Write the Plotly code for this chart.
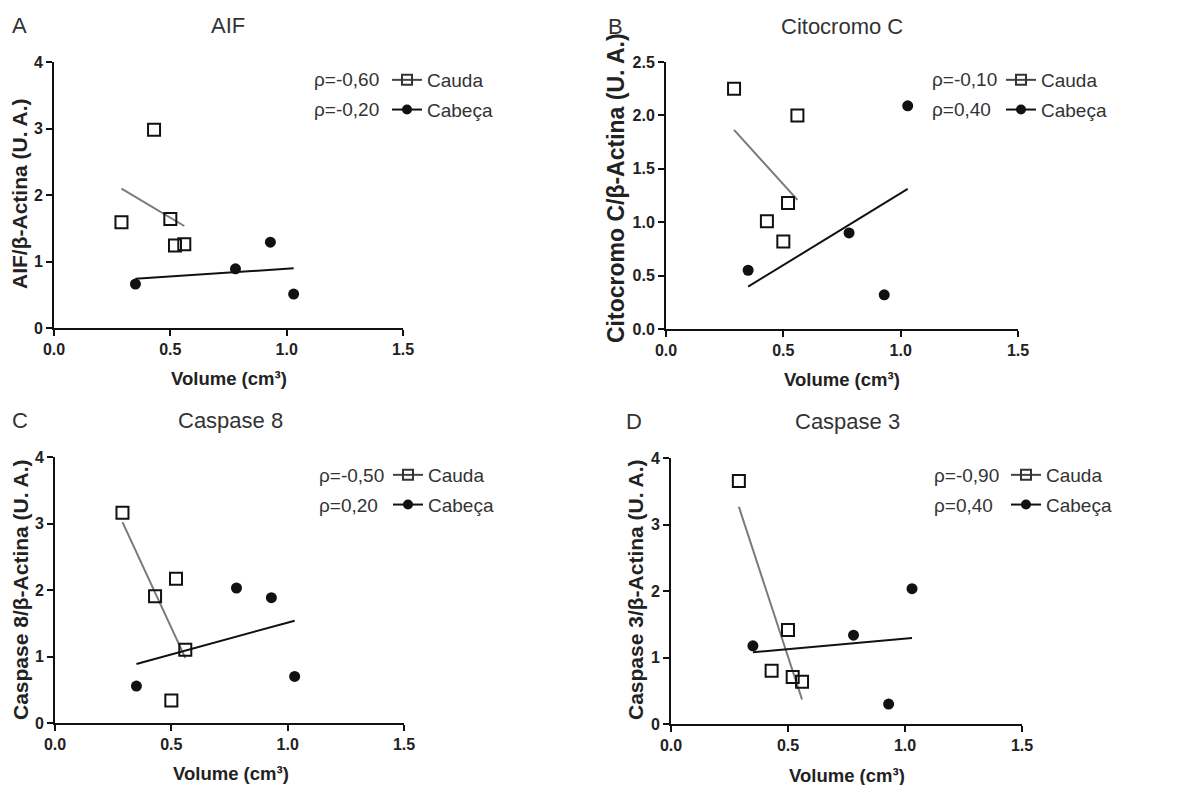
import numpy as np
import plotly.graph_objects as go

W, H = 1195, 785

# ---- data ----
panel_letters = ["A", "B", "C", "D"]
panel_titles = ["AIF", "Citocromo C", "Caspase 8", "Caspase 3"]
y_titles = ["AIF/β-Actina (U. A.)", "Citocromo C/β-Actina (U. A.)",
            "Caspase 8/β-Actina (U. A.)", "Caspase 3/β-Actina (U. A.)"]
x_title = "Volume (cm³)"

cauda_x = [0.29, 0.43, 0.50, 0.52, 0.56]
cabeca_x = [0.35, 0.78, 0.93, 1.03]

aif_cauda = [1.59, 2.98, 1.64, 1.24, 1.26]
aif_cabeca = [0.66, 0.89, 1.29, 0.51]
cito_cauda = [2.25, 1.01, 0.82, 1.18, 2.00]
cito_cabeca = [0.55, 0.90, 0.32, 2.09]
casp8_cauda = [3.16, 1.905, 0.34, 2.17, 1.10]
casp8_cabeca = [0.555, 2.03, 1.885, 0.70]
casp3_cauda = [3.655, 0.80, 1.415, 0.705, 0.635]
casp3_cabeca = [1.175, 1.335, 0.30, 2.035]

rho_cauda = ["ρ=-0,60", "ρ=-0,10", "ρ=-0,50", "ρ=-0,90"]
rho_cabeca = ["ρ=-0,20", "ρ=0,40", "ρ=0,20", "ρ=0,40"]

series_cauda = [aif_cauda, cito_cauda, casp8_cauda, casp3_cauda]
series_cabeca = [aif_cabeca, cito_cabeca, casp8_cabeca, casp3_cabeca]

x_ticks = [0.0, 0.5, 1.0, 1.5]
y_ranges = [[0, 4], [0, 2.5], [0, 4], [0, 4]]
y_dticks = [1, 0.5, 1, 1]
y_formats = ["d", ".1f", "d", "d"]

# ---- layout geometry (pixels) ----
boxes = [  # left, right, top, bottom
    (54, 403, 62, 328),
    (666, 1018, 62, 329),
    (55, 404, 457, 723),
    (671, 1022, 458, 724),
]
letter_pos = [(19.5, 26), (615, 26.5), (19.5, 420), (634, 421.5)]
title_pos = [(228, 26), (842, 26.5), (230, 420), (847, 421.5)]
xt_pos = [(229, 378), (842, 379), (231, 773), (847, 775)]
yt_pos = [(20, 194), (616, 188), (20, 590), (635, 590)]
yt_size = [21, 23, 21, 21]
rho_x = [312, 930, 317, 932]
row_y = [80, 475]
legend_left = [387, 1001, 388, 1006]


def px(x):
    return x / W


def py(y):
    return 1 - y / H


FONT = "Liberation Sans, Arial, sans-serif"
TXT = "#333333"
INK = "#111111"

fig = go.Figure()
layout = dict(
    width=W, height=H,
    margin=dict(l=0, r=0, t=0, b=0, pad=0, autoexpand=False),
    paper_bgcolor="white", plot_bgcolor="white",
    showlegend=True,
    font=dict(family=FONT, color=TXT),
)
annotations = []

for i in range(4):
    n = "" if i == 0 else str(i + 1)
    xa, ya = "x" + n, "y" + n
    leg = "legend" if i == 0 else "legend" + str(i + 1)
    l, r, t, b = boxes[i]
    layout["xaxis" + n] = dict(
        domain=[px(l), px(r)], range=[0, 1.5], tickvals=x_ticks, tickformat=".1f",
        showline=True, linewidth=2, linecolor=INK, ticks="outside", ticklen=6,
        tickwidth=2, tickcolor=INK, showgrid=False, zeroline=False, automargin=False,
        tickfont=dict(family=FONT, size=16, color="#222222", weight="bold"),
        anchor=ya, fixedrange=True,
    )
    layout["yaxis" + n] = dict(
        domain=[py(b), py(t)], range=y_ranges[i], dtick=y_dticks[i], tick0=0,
        tickformat=y_formats[i],
        showline=True, linewidth=2, linecolor=INK, ticks="outside", ticklen=6,
        tickwidth=2, tickcolor=INK, showgrid=False, zeroline=False, automargin=False,
        tickfont=dict(family=FONT, size=16, color="#222222", weight="bold"),
        anchor=xa, fixedrange=True,
    )

    cx = np.array(cauda_x)
    cy = np.array(series_cauda[i])
    hx = np.array(cabeca_x)
    hy = np.array(series_cabeca[i])

    # regression lines (least squares) over the data range
    s, c0 = np.polyfit(cx, cy, 1)
    lx = np.array([cx.min(), cx.max()])
    fig.add_trace(go.Scatter(x=lx, y=s * lx + c0, mode="lines", xaxis=xa, yaxis=ya,
                             line=dict(color="#7a7a7a", width=2), showlegend=False,
                             hoverinfo="skip", cliponaxis=False))
    s2, c2 = np.polyfit(hx, hy, 1)
    lx2 = np.array([hx.min(), hx.max()])
    fig.add_trace(go.Scatter(x=lx2, y=s2 * lx2 + c2, mode="lines", xaxis=xa, yaxis=ya,
                             line=dict(color=INK, width=2), showlegend=False,
                             hoverinfo="skip", cliponaxis=False))

    # points
    fig.add_trace(go.Scatter(x=cx, y=cy, mode="markers", xaxis=xa, yaxis=ya,
                             marker=dict(symbol="square-open", size=12, color=INK,
                                         line=dict(width=2, color=INK)),
                             showlegend=False, cliponaxis=False, name="Cauda"))
    fig.add_trace(go.Scatter(x=hx, y=hy, mode="markers", xaxis=xa, yaxis=ya,
                             marker=dict(symbol="circle", size=11, color=INK),
                             showlegend=False, cliponaxis=False, name="Cabeça"))

    # legend entries
    fig.add_trace(go.Scatter(x=[None], y=[None], mode="lines+markers", xaxis=xa, yaxis=ya,
                             name="Cauda", legend=leg, legendgroup="cauda%d" % i,
                             line=dict(color="#444444", width=2),
                             marker=dict(symbol="square-open", size=10, color="#333333",
                                         line=dict(width=2, color="#333333"))))
    fig.add_trace(go.Scatter(x=[None], y=[None], mode="lines+markers", xaxis=xa, yaxis=ya,
                             name="Cabeça", legend=leg, legendgroup="cabeca%d" % i,
                             line=dict(color=INK, width=2),
                             marker=dict(symbol="circle", size=10, color=INK)))

    ry = row_y[0] if i < 2 else row_y[1]
    layout[leg] = dict(
        x=px(legend_left[i]), y=py(ry - 19), xanchor="left", yanchor="top",
        bgcolor="rgba(0,0,0,0)", borderwidth=0,
        font=dict(family=FONT, size=19, color=TXT),
        tracegroupgap=2, itemclick=False, itemdoubleclick=False,
    )

    annotations += [
        dict(x=px(rho_x[i]), y=py(ry), xref="paper", yref="paper", text=rho_cauda[i],
             showarrow=False, xanchor="left", yanchor="middle",
             font=dict(family=FONT, size=19, color=TXT)),
        dict(x=px(rho_x[i]), y=py(ry + 30), xref="paper", yref="paper", text=rho_cabeca[i],
             showarrow=False, xanchor="left", yanchor="middle",
             font=dict(family=FONT, size=19, color=TXT)),
        dict(x=px(letter_pos[i][0]), y=py(letter_pos[i][1]), xref="paper", yref="paper",
             text=panel_letters[i], showarrow=False, xanchor="center", yanchor="middle",
             font=dict(family=FONT, size=22, color=TXT)),
        dict(x=px(title_pos[i][0]), y=py(title_pos[i][1]), xref="paper", yref="paper",
             text=panel_titles[i], showarrow=False, xanchor="center", yanchor="middle",
             font=dict(family=FONT, size=22, color=TXT)),
        dict(x=px(xt_pos[i][0]), y=py(xt_pos[i][1]), xref="paper", yref="paper",
             text=x_title, showarrow=False, xanchor="center", yanchor="middle",
             font=dict(family=FONT, size=18.5, color="#222222", weight="bold")),
        dict(x=px(yt_pos[i][0]), y=py(yt_pos[i][1]), xref="paper", yref="paper",
             text=y_titles[i], showarrow=False, xanchor="center", yanchor="middle",
             textangle=-90,
             font=dict(family=FONT, size=yt_size[i], color="#222222", weight="bold")),
    ]

layout["annotations"] = annotations
fig.update_layout(**layout)
fig.write_html(
    "out.html",
    config={"displayModeBar": False},
    post_script="document.documentElement.style.margin='0';"
                "document.body.style.margin='0';document.body.style.overflow='hidden';",
)
